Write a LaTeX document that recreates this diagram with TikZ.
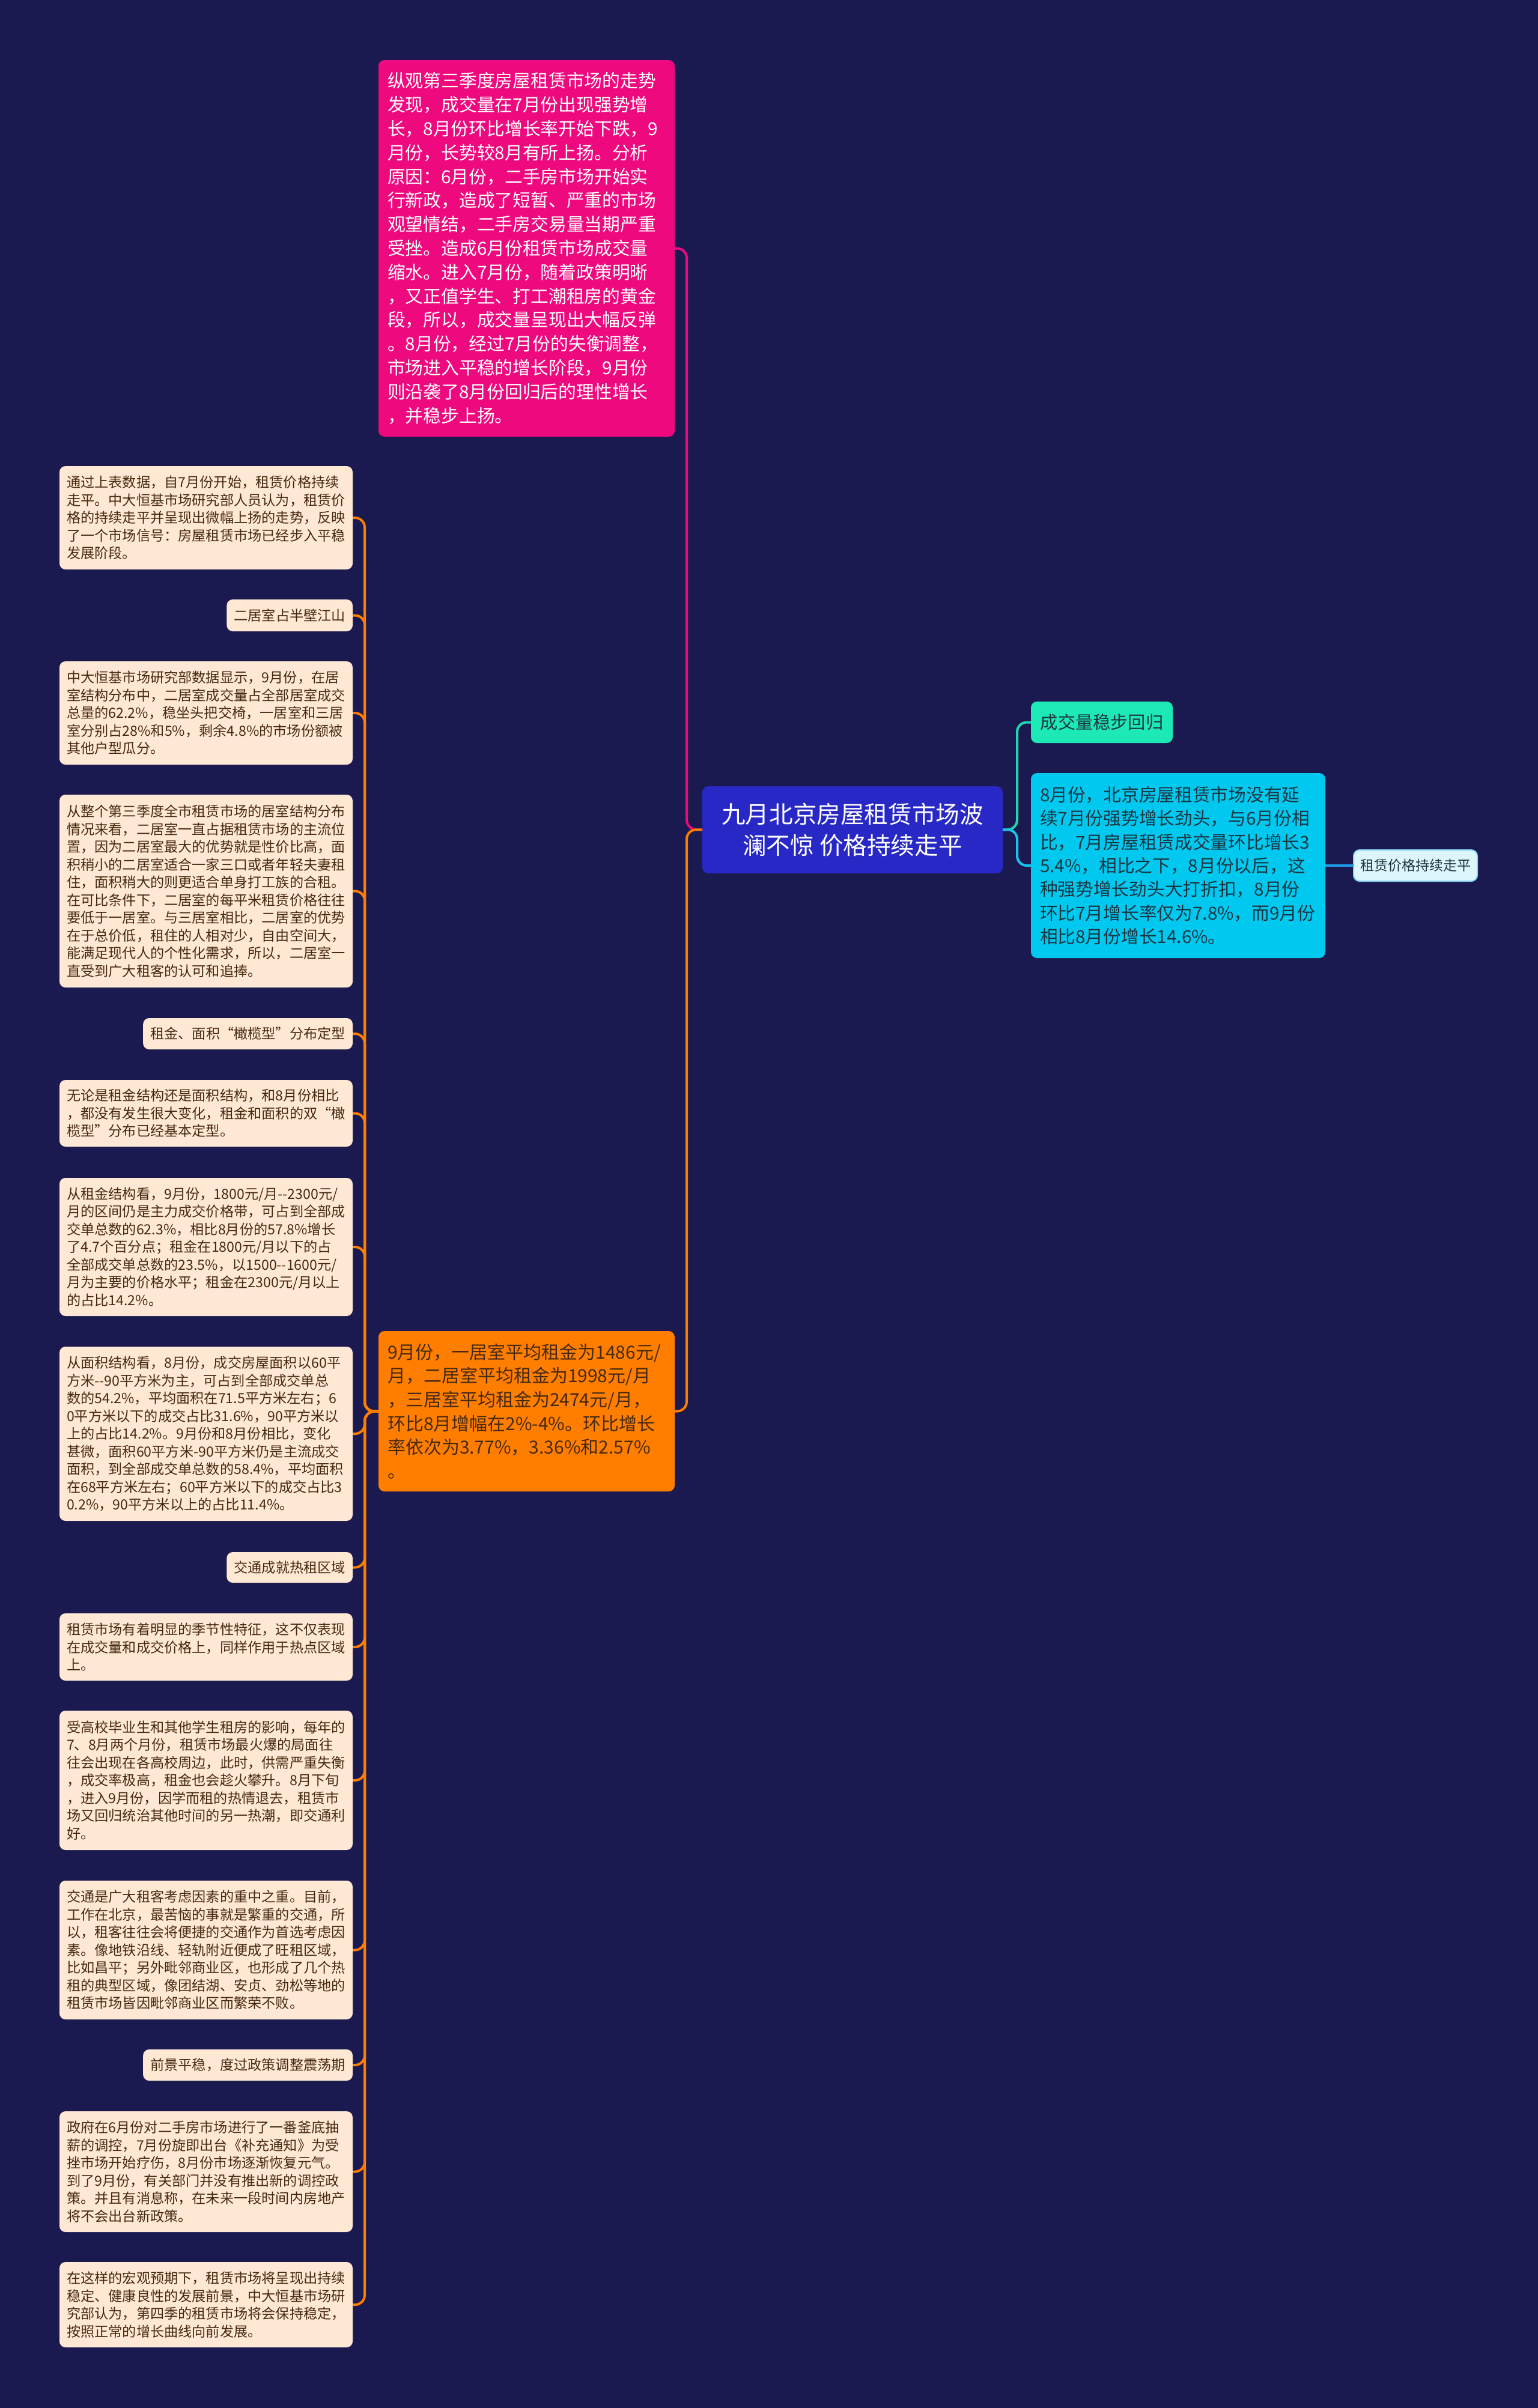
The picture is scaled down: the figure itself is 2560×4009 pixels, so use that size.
\documentclass[tikz,border=0pt]{standalone}
\usepackage{fontspec}
\newfontfamily\cjk{Noto Sans CJK SC}
\definecolor{bg}{HTML}{1B1A50}
\definecolor{beige}{HTML}{FFE9D4}
\definecolor{browntxt}{HTML}{45290F}
\definecolor{pinkc}{HTML}{EE0A7E}
\definecolor{orangec}{HTML}{FF7E00}
\definecolor{centerc}{HTML}{2828C6}
\definecolor{greenc}{HTML}{1DE9B6}
\definecolor{cyanc}{HTML}{00C8EE}
\definecolor{lightc}{HTML}{DDF6FC}
\definecolor{lightborder}{HTML}{86D4EE}
\definecolor{darktxt}{HTML}{1E3440}
\definecolor{greenline}{HTML}{21D6B0}
\definecolor{cyanline}{HTML}{18C4EC}
\definecolor{blueline}{HTML}{1E9BE8}
\tikzset{
  every node/.style={inner sep=0pt, outer sep=0pt},
  lbox/.style={fill=beige, rounded corners=2.5pt, text=browntxt, align=left,
    font=\cjk\fontsize{5.8pt}{7.375pt}\selectfont, inner xsep=3pt, inner ysep=0pt, anchor=north east},
  lwide/.style={lbox, text width=116pt},
  bigbox/.style={rounded corners=2.5pt, align=left, anchor=north west},
  con/.style={line width=1pt, rounded corners=4pt},
}
\begin{document}
\begin{tikzpicture}[x=0.25pt,y=-0.25pt]
\fill[bg] (0,0) rectangle (2560,4009);
\useasboundingbox (0,0) rectangle (2560,4009);

% central node
\node[fill=centerc, rounded corners=2.5pt, anchor=north west, minimum width=125pt, minimum height=36.25pt,
  align=center, text=white, font=\cjk\fontsize{9.9pt}{13pt}\selectfont] (c) at (1169,1309)
  {九月北京房屋租赁市场波\\澜不惊 价格持续走平};

% right side
\node[fill=greenc, rounded corners=2.5pt, anchor=north west, minimum width=59pt, minimum height=17.25pt,
  text=darktxt, font=\cjk\fontsize{7.3pt}{9pt}\selectfont] (g) at (1716,1168) {成交量稳步回归};
\node[bigbox, fill=cyanc, text=darktxt, text width=115pt, inner xsep=3.75pt, minimum height=77pt,
  font=\cjk\fontsize{7.43pt}{9.83pt}\selectfont] (cy) at (1716,1287)
  {8月份，北京房屋租赁市场没有延\\续7月份强势增长劲头，与6月份相\\比，7月房屋租赁成交量环比增长3\\5.4\%，相比之下，8月份以后，这\\种强势增长劲头大打折扣，8月份\\环比7月增长率仅为7.8\%，而9月份\\相比8月份增长14.6\%。};
\node[fill=lightc, draw=lightborder, line width=0.5pt, rounded corners=2.5pt, anchor=north west,
  minimum width=51.5pt, minimum height=13pt, text=darktxt, font=\cjk\fontsize{5.75pt}{7pt}\selectfont]
  (lb) at (2253,1415) {租赁价格持续走平};

% upper pink / lower orange
\node[bigbox, fill=pinkc, text=white, text width=115.75pt, inner xsep=3.75pt, minimum height=156.75pt,
  font=\cjk\fontsize{7.45pt}{9.95pt}\selectfont] (pk) at (630,100)
  {纵观第三季度房屋租赁市场的走势\\发现，成交量在7月份出现强势增\\长，8月份环比增长率开始下跌，9\\月份，长势较8月有所上扬。分析\\原因：6月份，二手房市场开始实\\行新政，造成了短暂、严重的市场\\观望情结，二手房交易量当期严重\\受挫。造成6月份租赁市场成交量\\缩水。进入7月份，随着政策明晰\\，又正值学生、打工潮租房的黄金\\段，所以，成交量呈现出大幅反弹\\。8月份，经过7月份的失衡调整，\\市场进入平稳的增长阶段，9月份\\则沿袭了8月份回归后的理性增长\\，并稳步上扬。};
\node[bigbox, fill=orangec, text=browntxt, text width=115.75pt, inner xsep=3.75pt, minimum height=66.75pt,
  font=\cjk\fontsize{7.5pt}{9.9pt}\selectfont] (or) at (630,2216)
  {9月份，一居室平均租金为1486元/\\月，二居室平均租金为1998元/月\\，三居室平均租金为2474元/月，\\环比8月增幅在2\%-4\%。环比增长\\率依次为3.77\%，3.36\%和2.57\%\\。};

% left boxes
\node[lwide, minimum height=43pt] (b1) at (587,776)
  {通过上表数据，自7月份开始，租赁价格持续\\走平。中大恒基市场研究部人员认为，租赁价\\格的持续走平并呈现出微幅上扬的走势，反映\\了一个市场信号：房屋租赁市场已经步入平稳\\发展阶段。};
\node[lbox, minimum height=13.25pt] (b2) at (587,998) {二居室占半壁江山};
\node[lwide, minimum height=43pt] (b3) at (587,1101)
  {中大恒基市场研究部数据显示，9月份，在居\\室结构分布中，二居室成交量占全部居室成交\\总量的62.2\%，稳坐头把交椅，一居室和三居\\室分别占28\%和5\%，剩余4.8\%的市场份额被\\其他户型瓜分。};
\node[lwide, minimum height=80.25pt] (b4) at (587,1323)
  {从整个第三季度全市租赁市场的居室结构分布\\情况来看，二居室一直占据租赁市场的主流位\\置，因为二居室最大的优势就是性价比高，面\\积稍小的二居室适合一家三口或者年轻夫妻租\\住，面积稍大的则更适合单身打工族的合租。\\在可比条件下，二居室的每平米租赁价格往往\\要低于一居室。与三居室相比，二居室的优势\\在于总价低，租住的人相对少，自由空间大，\\能满足现代人的个性化需求，所以，二居室一\\直受到广大租客的认可和追捧。};
\node[lbox, minimum height=13pt] (b5) at (587,1695) {租金、面积“橄榄型”分布定型};
\node[lwide, minimum height=27.75pt] (b6) at (587,1798)
  {无论是租金结构还是面积结构，和8月份相比\\，都没有发生很大变化，租金和面积的双“橄\\榄型”分布已经基本定型。};
\node[lwide, minimum height=57.5pt] (b7) at (587,1961)
  {从租金结构看，9月份，1800元/月--2300元/\\月的区间仍是主力成交价格带，可占到全部成\\交单总数的62.3\%，相比8月份的57.8\%增长\\了4.7个百分点；租金在1800元/月以下的占\\全部成交单总数的23.5\%，以1500--1600元/\\月为主要的价格水平；租金在2300元/月以上\\的占比14.2\%。};
\node[lwide, minimum height=72.5pt] (b8) at (587,2242)
  {从面积结构看，8月份，成交房屋面积以60平\\方米--90平方米为主，可占到全部成交单总\\数的54.2\%，平均面积在71.5平方米左右；6\\0平方米以下的成交占比31.6\%，90平方米以\\上的占比14.2\%。9月份和8月份相比，变化\\甚微，面积60平方米-90平方米仍是主流成交\\面积，到全部成交单总数的58.4\%，平均面积\\在68平方米左右；60平方米以下的成交占比3\\0.2\%，90平方米以上的占比11.4\%。};
\node[lbox, minimum height=12.75pt] (b9) at (587,2584) {交通成就热租区域};
\node[lwide, minimum height=28pt] (b10) at (587,2686)
  {租赁市场有着明显的季节性特征，这不仅表现\\在成交量和成交价格上，同样作用于热点区域\\上。};
\node[lwide, minimum height=58pt] (b11) at (587,2848)
  {受高校毕业生和其他学生租房的影响，每年的\\7、8月两个月份，租赁市场最火爆的局面往\\往会出现在各高校周边，此时，供需严重失衡\\，成交率极高，租金也会趁火攀升。8月下旬\\，进入9月份，因学而租的热情退去，租赁市\\场又回归统治其他时间的另一热潮，即交通利\\好。};
\node[lwide, minimum height=57.75pt] (b12) at (587,3131)
  {交通是广大租客考虑因素的重中之重。目前，\\工作在北京，最苦恼的事就是繁重的交通，所\\以，租客往往会将便捷的交通作为首选考虑因\\素。像地铁沿线、轻轨附近便成了旺租区域，\\比如昌平；另外毗邻商业区，也形成了几个热\\租的典型区域，像团结湖、安贞、劲松等地的\\租赁市场皆因毗邻商业区而繁荣不败。};
\node[lbox, minimum height=13pt] (b13) at (587,3412) {前景平稳，度过政策调整震荡期};
\node[lwide, minimum height=50.25pt] (b14) at (587,3515)
  {政府在6月份对二手房市场进行了一番釜底抽\\薪的调控，7月份旋即出台《补充通知》为受\\挫市场开始疗伤，8月份市场逐渐恢复元气。\\到了9月份，有关部门并没有推出新的调控政\\策。并且有消息称，在未来一段时间内房地产\\将不会出台新政策。};
\node[lwide, minimum height=35.5pt] (b15) at (587,3766)
  {在这样的宏观预期下，租赁市场将呈现出持续\\稳定、健康良性的发展前景，中大恒基市场研\\究部认为，第四季的租赁市场将会保持稳定，\\按照正常的增长曲线向前发展。};

% connectors
\coordinate (cl) at (1143,1381);
\coordinate (cr) at (1693,1381);
\coordinate (ol) at (607,2350);
\draw[con, pinkc] (c.west) -- (cl) |- (pk.east);
\draw[con, orangec] (c.west) -- (cl) |- (or.east);
\draw[con, greenline] (c.east) -- (cr) |- (g.west);
\draw[con, cyanline] (c.east) -- (cr) |- (cy.west);
\draw[con, blueline] (cy.east) -- (lb.west);
\foreach \b in {b1,b2,b3,b4,b5,b6,b7,b8,b9,b10,b11,b12,b13,b14,b15}
  \draw[con, orangec] (or.west) -- (ol) |- (\b.east);
\end{tikzpicture}
\end{document}
